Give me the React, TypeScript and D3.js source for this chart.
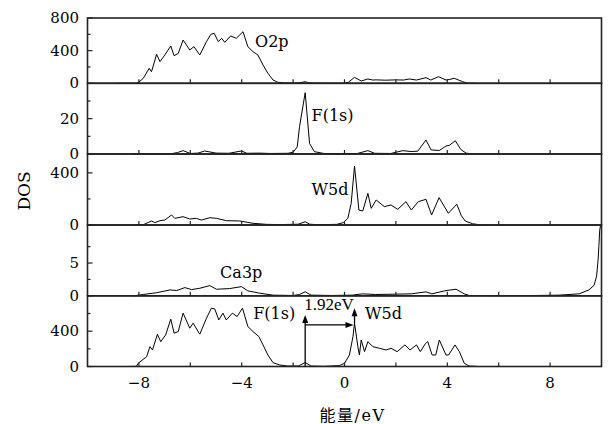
import React from 'react';
import * as d3 from 'd3';

// Energy axis (eV)
const energyDomain: [number, number] = [-10, 10];
const energyTicks = [-8, -6, -4, -2, 0, 2, 4, 6, 8];
const energyLabels = [-8, -4, 0, 4, 8];

// Partial densities of states: [energy (eV), DOS]
const o2pDos: [number, number][] = [
  [-8.9, 0], [-8.1, 0], [-8.0, 15], [-7.83, 61], [-7.6, 184], [-7.51, 142], [-7.31, 355], [-7.18, 265],
  [-6.99, 347], [-6.76, 457], [-6.63, 338], [-6.47, 367], [-6.28, 530], [-6.02, 408], [-5.86, 449],
  [-5.63, 347], [-5.37, 510], [-5.2, 600], [-5.07, 612], [-4.91, 510], [-4.78, 551], [-4.66, 502],
  [-4.43, 580], [-4.21, 551], [-3.95, 632], [-3.76, 449], [-3.56, 387], [-3.37, 347], [-3.17, 224],
  [-2.98, 122], [-2.78, 40], [-2.59, 12], [-2.33, 4], [-1.9, 3], [-1.7, 8], [-1.53, 20], [-1.4, 6],
  [-1.2, 2], [-0.5, 0], [0.0, 0], [0.15, 12], [0.39, 73], [0.65, 28], [0.91, 53], [1.1, 40], [1.23, 42],
  [1.6, 38], [2.0, 42], [2.3, 40], [2.52, 53], [2.8, 40], [3.17, 69], [3.36, 40], [3.66, 81], [3.95, 40],
  [4.1, 48], [4.27, 61], [4.6, 20], [4.79, 0], [5.1, 0],
];

const f1sDos: [number, number][] = [
  [-8.3, 0], [-6.8, 0], [-6.5, 0.8], [-6.28, 1.9], [-6.0, 0.3], [-5.7, 0.5], [-5.44, 1.7], [-5.0, 0.5],
  [-4.5, 0.4], [-4.01, 1.7], [-3.8, 0.4], [-3.3, 0.5], [-2.9, 0.3], [-2.2, 0.4], [-2.0, 1], [-1.84, 4],
  [-1.75, 15.4], [-1.53, 34.7], [-1.36, 6], [-1.17, 1.3], [-0.8, 0.3], [0.0, 0.2], [0.5, 0.3], [0.91, 1.9],
  [1.17, 0.4], [1.8, 0.3], [2.27, 1.9], [2.59, 1.4], [2.85, 1.6], [3.17, 7.9], [3.37, 2.3], [3.69, 2],
  [3.95, 4.5], [4.08, 4.9], [4.31, 7.5], [4.53, 2.5], [4.73, 0.5], [5.0, 0],
];

const w5dDos: [number, number][] = [
  [-8.2, 0], [-7.83, 2], [-7.51, 31], [-7.38, 18], [-7.18, 33], [-6.99, 38], [-6.73, 77], [-6.6, 51],
  [-6.28, 64], [-6.02, 46], [-5.76, 51], [-5.57, 38], [-5.24, 56], [-4.98, 51], [-4.59, 33], [-4.08, 31],
  [-3.56, 13], [-3.04, 5], [-2.5, 3], [-1.8, 6], [-1.53, 25], [-1.35, 6], [-1.0, 2], [-0.3, 5],
  [-0.05, 18], [0.13, 51], [0.26, 166], [0.39, 453], [0.56, 115], [0.71, 107], [0.91, 243], [1.04, 128],
  [1.23, 192], [1.55, 141], [1.81, 154], [2.07, 120], [2.39, 179], [2.6, 115], [2.87, 179], [3.17, 197],
  [3.39, 77], [3.68, 210], [4.04, 90], [4.37, 159], [4.55, 70], [4.7, 30], [4.98, 10], [5.3, 0],
];

const ca3pDos: [number, number][] = [
  [-8.2, 0], [-7.83, 0.2], [-7.31, 0.47], [-6.79, 0.9], [-6.53, 0.8], [-6.21, 1.25], [-5.95, 0.95],
  [-5.63, 1.15], [-5.24, 1.55], [-4.98, 1.0], [-4.47, 1.1], [-4.01, 1.4], [-3.76, 0.75], [-3.3, 0.4],
  [-2.78, 0.1], [-2.0, 0.05], [-1.75, 0.2], [-1.53, 0.62], [-1.3, 0.1], [-0.5, 0.05], [0.3, 0.1],
  [0.7, 0.3], [1.2, 0.2], [2.0, 0.25], [2.6, 0.3], [3.17, 0.6], [3.4, 0.3], [3.95, 0.8], [4.34, 1.0],
  [4.66, 0.3], [4.85, 0.05], [6.0, 0.03], [7.5, 0.05], [8.35, 0.1], [9.13, 0.3], [9.51, 0.9], [9.71, 1.6],
  [9.81, 3.0], [9.87, 5.6], [9.9, 7.7], [9.93, 10.0], [9.96, 10.7],
];

const totalDos: [number, number][] = [
  [-8.5, 0], [-8.1, 2], [-8.03, 36], [-7.7, 111], [-7.57, 225], [-7.47, 187], [-7.28, 365], [-7.15, 281],
  [-6.96, 357], [-6.76, 536], [-6.63, 377], [-6.47, 395], [-6.28, 604], [-6.02, 433], [-5.89, 490],
  [-5.63, 365], [-5.37, 547], [-5.18, 660], [-5.05, 652], [-4.89, 527], [-4.73, 604], [-4.6, 527],
  [-4.36, 604], [-4.18, 565], [-3.97, 660], [-3.76, 452], [-3.56, 395], [-3.33, 338], [-3.17, 244],
  [-2.98, 130], [-2.78, 43], [-2.52, 17], [-2.2, 5], [-1.8, 5], [-1.53, 45], [-1.3, 5], [-0.8, 2],
  [-0.2, 10], [0.0, 36], [0.19, 130], [0.33, 338], [0.39, 490], [0.52, 225], [0.58, 130], [0.65, 300],
  [0.78, 168], [0.91, 281], [1.1, 225], [1.36, 206], [1.62, 187], [1.81, 206], [2.05, 168], [2.35, 244],
  [2.55, 187], [2.8, 244], [2.95, 168], [3.15, 260], [3.24, 281], [3.41, 130], [3.55, 130], [3.69, 300],
  [3.95, 130], [4.05, 130], [4.3, 244], [4.47, 168], [4.66, 36], [4.85, 5], [5.2, 0],
];

// One entry per stacked panel, top to bottom
const panelSeries = [o2pDos, f1sDos, w5dDos, ca3pDos, totalDos];
const panelMax = [800, 40, 545, 10.8, 800];
const panelMajorTicks = [[0, 400, 800], [0, 20], [0, 400], [0, 5], [0, 400]];
const panelMinorTicks = [[200, 600], [10, 30], [200], [2.5, 7.5], [200, 600]];

// Curve labels: panel index, text, energy, DOS value at label centre line
const curveLabels = [
  { panel: 0, text: 'O2p', e: -3.48, v: 510 },
  { panel: 1, text: 'F(1s)', e: -1.28, v: 22 },
  { panel: 2, text: 'W5d', e: -1.28, v: 269 },
  { panel: 3, text: 'Ca3p', e: -4.84, v: 3.5 },
  { panel: 4, text: 'F(1s)', e: -3.55, v: 596 },
  { panel: 4, text: 'W5d', e: 0.8, v: 596 },
];

// Band-gap annotation in the total DOS panel
const fPeakEnergy = -1.53;
const gapEnergy = 1.92;
const gapLabel = '1.92eV';
const fArrowTop = 584;
const wArrowBase = 490;
const wArrowTop = 660;
const gapArrowLevel = 471;

const W = 609;
const H = 424;
const left = 87.5;
const right = 601.5;
const top = 18;
const panelHeights = [65.3, 70.7, 71, 70.8, 70.7];

const serif = '"DejaVu Serif", serif';
const timesLike = '"Liberation Serif", serif';

function arrowHead(x: number, y: number, dir: 'up' | 'right', len = 8, half = 3) {
  if (dir === 'up') return `M${x},${y}L${x - half},${y + len}L${x + half},${y + len}Z`;
  return `M${x},${y}L${x - len},${y - half}L${x - len},${y + half}Z`;
}

export default function App() {
  const x = d3.scaleLinear().domain(energyDomain).range([left, right]);
  const edges = [top];
  panelHeights.forEach((h) => edges.push(edges[edges.length - 1] + h));
  const yScales = panelMax.map((m, i) =>
    d3.scaleLinear().domain([0, m]).range([edges[i + 1], edges[i]])
  );

  const wPeakEnergy = fPeakEnergy + gapEnergy;
  const yT = yScales[4];

  return (
    <svg width={W} height={H} style={{ position: 'absolute', left: 0, top: 0, background: '#fff' }}>
      <rect x={0} y={0} width={W} height={H} fill="#fff" />
      {panelSeries.map((series, i) => {
        const y = yScales[i];
        const line = d3
          .line<[number, number]>()
          .x((d) => x(d[0]))
          .y((d) => y(Math.min(d[1], panelMax[i])));
        const y0 = edges[i + 1];
        return (
          <g key={i}>
            <path d={line(series) || ''} fill="none" stroke="#000" strokeWidth={1} strokeLinejoin="round" />
            {energyTicks.map((t) => (
              <line key={t} x1={x(t)} x2={x(t)} y1={y0} y2={y0 - 4} stroke="#222" strokeWidth={1.2} />
            ))}
            {panelMajorTicks[i].map((t) => (
              <line key={'M' + t} x1={left} x2={left + 5} y1={y(t)} y2={y(t)} stroke="#222" strokeWidth={1.2} />
            ))}
            {panelMinorTicks[i].map((t) => (
              <line key={'m' + t} x1={left} x2={left + 3} y1={y(t)} y2={y(t)} stroke="#222" strokeWidth={1.2} />
            ))}
            {panelMajorTicks[i].map((t) => (
              <text
                key={'l' + t}
                x={79}
                y={y(t)}
                textAnchor="end"
                dominantBaseline="central"
                fontFamily={serif}
                fontSize={15}
                fill="#000"
              >
                {t}
              </text>
            ))}
            <rect
              x={left}
              y={edges[i]}
              width={right - left}
              height={edges[i + 1] - edges[i]}
              fill="none"
              stroke="#222"
              strokeWidth={1.6}
            />
          </g>
        );
      })}

      {curveLabels.map((l, k) => (
        <text
          key={k}
          x={x(l.e)}
          y={yScales[l.panel](l.v)}
          dominantBaseline="central"
          fontFamily={serif}
          fontSize={16}
          fill="#000"
        >
          {l.text}
        </text>
      ))}

      {/* F(1s) marker arrow */}
      <line x1={x(fPeakEnergy)} x2={x(fPeakEnergy)} y1={yT(0)} y2={yT(fArrowTop) + 6} stroke="#000" strokeWidth={1.3} />
      <path d={arrowHead(x(fPeakEnergy), yT(fArrowTop), 'up')} fill="#000" />
      {/* W5d marker arrow */}
      <line x1={x(wPeakEnergy)} x2={x(wPeakEnergy)} y1={yT(wArrowBase)} y2={yT(wArrowTop) + 6} stroke="#000" strokeWidth={1.3} />
      <path d={arrowHead(x(wPeakEnergy), yT(wArrowTop), 'up')} fill="#000" />
      {/* gap arrow */}
      <line x1={x(fPeakEnergy)} x2={x(wPeakEnergy) - 6} y1={yT(gapArrowLevel)} y2={yT(gapArrowLevel)} stroke="#000" strokeWidth={1.3} />
      <path d={arrowHead(x(wPeakEnergy) - 1, yT(gapArrowLevel), 'right')} fill="#000" />
      <text
        x={x(fPeakEnergy) - 1}
        y={yT(696)}
        dominantBaseline="central"
        fontFamily={timesLike}
        fontSize={17}
        fill="#000"
      >
        {gapLabel}
      </text>

      {energyLabels.map((t) => (
        <text
          key={t}
          x={x(t)}
          y={383}
          textAnchor="middle"
          dominantBaseline="central"
          fontFamily={serif}
          fontSize={15}
          fill="#000"
        >
          {t < 0 ? '\u2212' + Math.abs(t) : String(t)}
        </text>
      ))}

      <text
        transform={`translate(23.5,191) rotate(-90)`}
        textAnchor="middle"
        dominantBaseline="central"
        fontFamily={serif}
        fontSize={17}
        fill="#000"
      >
        DOS
      </text>
      <text
        x={352.5}
        y={415}
        textAnchor="middle"
        dominantBaseline="central"
        fontFamily='"DejaVu Serif", "Noto Sans CJK SC", serif'
        fontSize={16}
        letterSpacing={1.5}
        fill="#000"
      >
        能量/eV
      </text>
    </svg>
  );
}
